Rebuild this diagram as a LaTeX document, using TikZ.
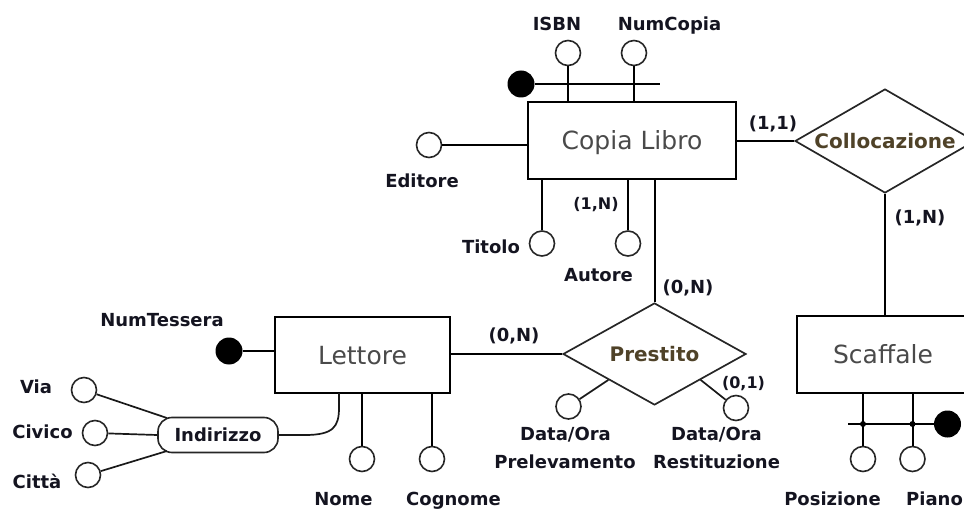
\documentclass[tikz,border=0pt]{standalone}
\usepackage{fontspec}
\setmainfont{DejaVu Sans}
\usetikzlibrary{shapes.geometric,calc}
\definecolor{lbl}{HTML}{141420}
\definecolor{ent}{HTML}{4A4A4A}
\definecolor{rel}{HTML}{4F4228}
\begin{document}
\begin{tikzpicture}[x=1pt,y=-1pt,
  ln/.style={line width=2pt,draw=black},
  thin/.style={line width=1.7pt,draw=black!90},
  entity/.style={draw=black,line width=2pt,rectangle,inner sep=0pt,
    text=ent,font=\fontsize{25}{28}\selectfont,text height=18pt,text depth=0pt},
  relship/.style={draw=black!85,line width=1.7pt,diamond,inner sep=0pt,
    text=rel,font=\bfseries\fontsize{20}{22}\selectfont,text height=14.6pt,text depth=0pt},
  attr/.style={circle,draw=black!85,line width=1.6pt,fill=white,minimum size=25pt,inner sep=0pt},
  keyattr/.style={circle,fill=black,minimum size=27pt,inner sep=0pt},
  lab/.style={inner sep=0pt,text=lbl,font=\bfseries\fontsize{18}{20}\selectfont,text height=13pt,text depth=0pt},
  card/.style={inner sep=0pt,text=lbl,font=\bfseries\fontsize{18}{20}\selectfont,text height=13pt,text depth=0pt},
  smallcard/.style={inner sep=0pt,text=lbl,font=\bfseries\fontsize{16}{18}\selectfont,text height=11.5pt,text depth=0pt},
  composite/.style={draw=black!85,line width=1.6pt,rounded corners=14pt,rectangle,
    minimum width=120pt,minimum height=35pt,inner sep=0pt,
    text=lbl,font=\bfseries\fontsize{18}{20}\selectfont,text height=13pt,text depth=0pt},
  dot/.style={circle,fill=black,minimum size=6pt,inner sep=0pt}]
\useasboundingbox (0,0) rectangle (964,513);
\clip (0,0) rectangle (964,513);

% entities
\node[entity,minimum width=208pt,minimum height=77pt] (copia) at (632,141) {Copia Libro};
\node[entity,minimum width=175pt,minimum height=76pt] (lettore) at (362.5,355) {Lettore};
\node[entity,minimum width=172pt,minimum height=77pt] (scaffale) at (883,354.5) {Scaffale};

% relationships
\node[relship,aspect=1.8,minimum width=183pt,minimum height=102pt] (prestito) at (654.5,354) {Prestito};
\node[relship,aspect=1.73,minimum width=180pt,minimum height=104pt] (coll) at (885,141) {Collocazione};

% Copia Libro attributes
\node[attr] (isbnC) at (568,53) {};
\node[attr] (numcC) at (634,53) {};
\node[keyattr] (keyC) at (521,84) {};
\coordinate (keyEnd) at (660,84);
\node[attr] (edC) at (429,145) {};
\node[attr] (titC) at (542,243.5) {};
\node[attr] (autC) at (628,243.5) {};

\node[lab] (isbnL) at (557,24) {ISBN};
\node[lab] (numcL) at (669.5,24) {NumCopia};
\node[lab] (edL) at (422,181) {Editore};
\node[lab] (titL) at (491,247) {Titolo};
\node[lab] (autL) at (598.5,275) {Autore};
\node[smallcard] (autCard) at (596,204) {(1,N)};

\draw[ln] (isbnC) -- (isbnC |- copia.north);
\draw[ln] (numcC) -- (numcC |- copia.north);
\draw[ln] (keyC) -- (keyEnd);
\draw[ln] (edC) -- (edC -| copia.west);
\draw[ln] (titC) -- (titC |- copia.south);
\draw[ln] (autC) -- (autC |- copia.south);

% Copia Libro - Prestito
\draw[ln] (prestito.north) -- (prestito.north |- copia.south);
\node[card] (cpCard) at (688,287) {(0,N)};

% Copia Libro - Collocazione - Scaffale
\draw[ln] (copia.east) -- (coll.west);
\node[card] (ccCard) at (773,123) {(1,1)};
\draw[ln] (coll.south) -- (coll.south |- scaffale.north);
\node[card] (csCard) at (920,217) {(1,N)};

% Lettore - Prestito
\draw[ln] (prestito.west) -- (prestito.west -| lettore.east);
\node[card] (lpCard) at (514,335) {(0,N)};

% Lettore attributes
\node[keyattr] (ntC) at (229,351) {};
\node[lab] (ntL) at (162,319.5) {NumTessera};
\draw[ln] (ntC) -- (ntC -| lettore.west);

\node[attr] (nomeC) at (362,459) {};
\node[attr] (cognC) at (432,459) {};
\node[lab] (nomeL) at (343.5,499) {Nome};
\node[lab] (cognL) at (453.5,499) {Cognome};
\draw[ln] (nomeC) -- (nomeC |- lettore.south);
\draw[ln] (cognC) -- (cognC |- lettore.south);

% Indirizzo composite attribute
\node[composite] (ind) at (218,435) {Indirizzo};
\coordinate (indTop) at (167,418);
\coordinate (indBot) at (167,451);
\coordinate (lk) at (339,393);
\draw[thin] (ind.east) -- (305,435) .. controls (333,435) and (339,427) .. (339,408) -- (lk);

\node[attr] (viaC) at (84,390) {};
\node[attr] (civC) at (95,433) {};
\node[attr] (citC) at (88,475) {};
\node[lab] (viaL) at (36,387) {Via};
\node[lab] (civL) at (42.5,432) {Civico};
\node[lab] (citL) at (37,482) {Città};
\draw[thin] (viaC) -- (indTop);
\draw[thin] (civC) -- (ind.west);
\draw[thin] (citC) -- (indBot);

% Prestito attributes
\node[attr] (prelC) at (568.5,406.5) {};
\node[attr] (restC) at (736,408) {};
\coordinate (pw) at ($(prestito.west)!0.5!(prestito.south)$);
\coordinate (pe) at ($(prestito.east)!0.5!(prestito.south)$);
\draw[thin] (prelC) -- (pw);
\draw[thin] (restC) -- (pe);
\node[smallcard] (restCard) at (743.5,383) {(0,1)};
\node[lab] (prelL1) at (565.5,434) {Data/Ora};
\node[lab] (prelL2) at (565,462) {Prelevamento};
\node[lab] (restL1) at (716.5,434) {Data/Ora};
\node[lab] (restL2) at (716.5,462) {Restituzione};

% Scaffale attributes
\node[attr] (posC) at (863,459) {};
\node[attr] (pianoC) at (912.5,459) {};
\node[keyattr] (skC) at (947.5,424) {};
\coordinate (sbar) at (848,424);
\draw[ln] (posC) -- (posC |- scaffale.south);
\draw[ln] (pianoC) -- (pianoC |- scaffale.south);
\draw[ln] (sbar) -- (skC);
\node[dot] (d1) at (posC |- sbar) {};
\node[dot] (d2) at (pianoC |- sbar) {};
\node[lab] (posL) at (832.5,499) {Posizione};
\node[lab] (pianoL) at (934.5,499) {Piano};
\end{tikzpicture}
\end{document}
